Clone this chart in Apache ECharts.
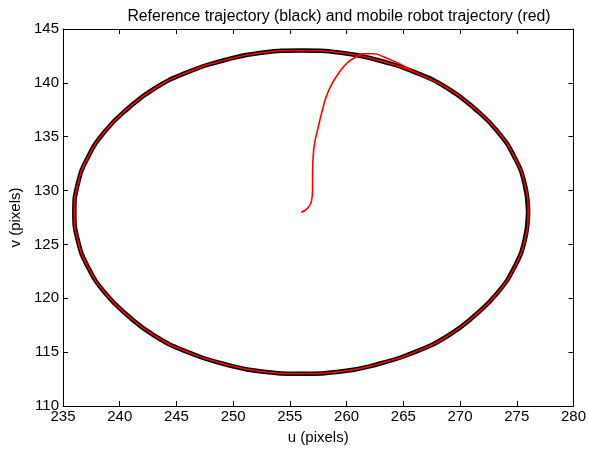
<!DOCTYPE html>
<html><head><meta charset="utf-8">
<script src="https://cdn.jsdelivr.net/npm/echarts@6/dist/echarts.min.js"></script>
<style>html,body{margin:0;padding:0;background:#fff}#c{width:589px;height:451px}</style>
</head><body><div id="c"></div>
<script>
var titleText = 'Reference trajectory (black) and mobile robot trajectory (red)';
var xName = 'u (pixels)';
var yName = 'v (pixels)';
var xTicks = [235, 240, 245, 250, 255, 260, 265, 270, 275, 280];
var yTicks = [110, 115, 120, 125, 130, 135, 140, 145];

// reference trajectory (black)
var refU = [276.0, 275.7, 274.8, 273.3, 271.3, 268.9, 266.0, 262.8, 259.5, 256.0, 252.5, 249.2, 246.0, 243.1, 240.7, 238.7, 237.2, 236.3,
            236.0, 236.3, 237.2, 238.7, 240.7, 243.1, 246.0, 249.2, 252.5, 256.0, 259.5, 262.8, 266.0, 268.9, 271.3, 273.3, 274.8, 275.7, 276.0];
var refV = [128.0, 130.6, 133.1, 135.5, 137.6, 139.5, 141.0, 142.1, 142.8, 143.0, 142.8, 142.1, 141.0, 139.5, 137.6, 135.5, 133.1, 130.6,
            128.0, 125.4, 122.9, 120.5, 118.4, 116.5, 115.0, 113.9, 113.2, 113.0, 113.2, 113.9, 115.0, 116.5, 118.4, 120.5, 122.9, 125.4, 128.0];

// robot trajectory (red): approach then tracking (clockwise)
var robU = [256.0, 256.5, 256.9, 257.0, 257.0, 257.1, 257.5, 257.9, 258.2, 258.7, 259.3, 260.0, 260.8, 261.5, 262.4, 263.3, 264.6,
            266.0, 268.9, 271.3, 273.3, 274.8, 275.7, 276.0, 275.7, 274.8, 273.3, 271.3, 268.9, 266.0, 262.8, 259.5, 256.0, 252.5, 249.2, 246.0, 243.1, 240.7, 238.7, 237.2, 236.3,
            236.0, 236.3, 237.2, 238.7, 240.7, 243.1, 246.0, 249.2, 252.5, 256.0, 259.5, 262.8, 266.0];
var robV = [128.0, 128.3, 129.0, 130.0, 131.6, 133.8, 135.9, 137.6, 138.7, 139.9, 140.9, 141.8, 142.4, 142.7, 142.7, 142.4, 141.8,
            141.0, 139.5, 137.6, 135.5, 133.1, 130.6, 128.0, 125.4, 122.9, 120.5, 118.4, 116.5, 115.0, 113.9, 113.2, 113.0, 113.2, 113.9, 115.0, 116.5, 118.4, 120.5, 122.9, 125.4,
            128.0, 130.6, 133.1, 135.5, 137.6, 139.5, 141.0, 142.1, 142.8, 143.0, 142.8, 142.1, 141.0];

function zip(a, b) { return a.map(function (v, i) { return [v, b[i]]; }); }

var font = 'Liberation Sans, Arial, Helvetica, sans-serif';
var axisCommon = {
  type: 'value',
  axisLine: { show: true, onZero: false, lineStyle: { color: '#000', width: 1 } },
  axisTick: { show: true, inside: true, length: 5, lineStyle: { color: '#000' } },
  splitLine: { show: false },
  axisLabel: { color: '#000', fontFamily: font, fontSize: 15 }
};
function ax(extra) { return Object.assign({}, JSON.parse(JSON.stringify(axisCommon)), extra); }

var chart = echarts.init(document.getElementById('c'), null, { renderer: 'canvas' });
chart.setOption({
  animation: false,
  backgroundColor: '#fff',
  title: {
    text: titleText, left: 334, top: 4, textAlign: 'center',
    textStyle: { fontFamily: font, fontSize: 15.8, fontWeight: 'normal', color: '#000' }
  },
  grid: { left: 61, right: 14, top: 29, bottom: 45, containLabel: false },
  xAxis: [
    ax({ min: xTicks[0], max: xTicks[xTicks.length - 1], interval: 5, position: 'bottom',
      name: xName, nameLocation: 'middle', nameGap: 24,
      nameTextStyle: { color: '#000', fontFamily: font, fontSize: 15 },
      axisLabel: { color: '#000', fontFamily: font, fontSize: 15, margin: 3, showMinLabel: true, showMaxLabel: true } }),
    ax({ min: xTicks[0], max: xTicks[xTicks.length - 1], interval: 5, position: 'top',
      axisLabel: { show: false } })
  ],
  yAxis: [
    ax({ min: yTicks[0], max: yTicks[yTicks.length - 1], interval: 5, position: 'left',
      name: yName, nameLocation: 'middle', nameGap: 40, nameRotate: 90,
      nameTextStyle: { color: '#000', fontFamily: font, fontSize: 15 },
      axisLabel: { color: '#000', fontFamily: font, fontSize: 15, margin: 4 } }),
    ax({ min: yTicks[0], max: yTicks[yTicks.length - 1], interval: 5, position: 'right',
      axisLabel: { show: false } })
  ],
  series: [
    { type: 'line', data: zip(refU, refV), smooth: 0.5, showSymbol: false, symbol: 'none',
      lineStyle: { color: '#000', width: 4.5 }, z: 2 },
    { type: 'line', data: zip(robU, robV), smooth: 0.5, showSymbol: false, symbol: 'none',
      lineStyle: { color: '#ff0000', width: 1.6 }, z: 3 }
  ]
});
</script></body></html>
